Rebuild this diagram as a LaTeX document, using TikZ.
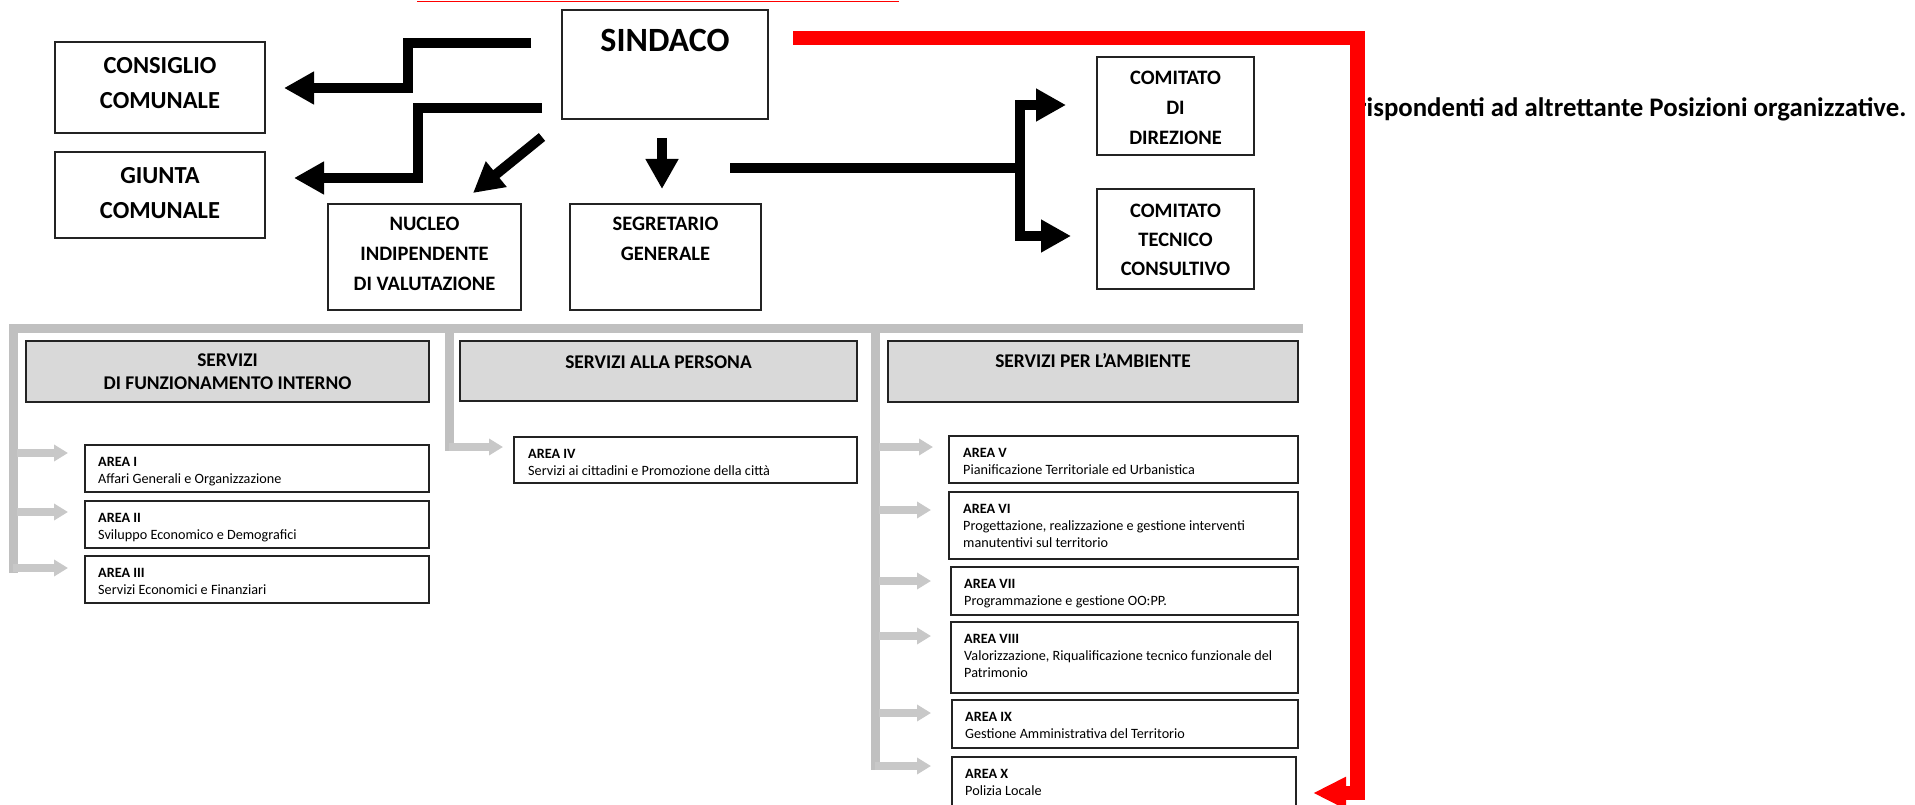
\documentclass[tikz,border=0pt]{standalone}
\usepackage{fontspec}
\setmainfont{Carlito}
\usetikzlibrary{arrows.meta,calc}
\definecolor{redline}{RGB}{255,0,0}
\definecolor{grayline}{RGB}{192,192,192}
\definecolor{grayarrow}{RGB}{200,200,200}
\definecolor{headfill}{RGB}{217,217,217}
\definecolor{boxdraw}{RGB}{35,35,35}
\begin{document}
\begin{tikzpicture}[x=1pt,y=-1pt,line join=miter,
  box/.style={draw=boxdraw,line width=1.4pt,anchor=north west,inner sep=0pt,outer sep=0pt},
  hdr/.style={box,fill=headfill},
  area/.style={draw=boxdraw,line width=1.2pt,anchor=north west,inner sep=0pt,outer sep=0pt},
  bigtxt/.style={align=center,font=\fontsize{24.5}{35}\selectfont\bfseries},
  midtxt/.style={align=center,font=\fontsize{20.5}{30}\selectfont\bfseries},
  hdrtxt/.style={align=center,font=\fontsize{19.4}{23}\selectfont\bfseries},
  areatxt/.style={align=left,anchor=north west,inner sep=0pt,font=\fontsize{14.2}{17}\selectfont},
  blk/.style={line width=10pt,-{Triangle[length=30pt,width=31pt]}},
  redarrow/.style={draw=redline,line width=14.5pt,-{Triangle[length=33pt,width=30pt]}},
  gbar/.style={draw=grayline,line width=9pt},
  garrow/.style={draw=grayarrow,line width=7.5pt,-{Triangle[length=14pt,width=16pt]}}]
\useasboundingbox (0,0) rectangle (1915,805);
\clip (0,0) rectangle (1915,805);
\fill[white] (0,0) rectangle (1915,805);

% thin red line at top
\draw[draw=redline,line width=1.5pt] (417,1.5) -- (899,1.5);

% top boxes
\node[box,minimum width=206pt,minimum height=109pt] (sindaco) at (562,10) {};
\node[font=\fontsize{34}{40}\selectfont\bfseries] (sindacot) at (665,40) {SINDACO};
\node[box,minimum width=210pt,minimum height=91pt] (consiglio) at (55,42) {};
\node[bigtxt] (consigliot) at (160,83.5) {CONSIGLIO\\COMUNALE};
\node[box,minimum width=210pt,minimum height=86pt] (giunta) at (55,152) {};
\node[bigtxt] (giuntat) at (160,193) {GIUNTA\\COMUNALE};
\node[box,minimum width=193pt,minimum height=106pt] (nucleo) at (328,204) {};
\node[midtxt] (nucleot) at (424.5,254) {NUCLEO\\INDIPENDENTE\\DI VALUTAZIONE};
\node[box,minimum width=191pt,minimum height=106pt] (segr) at (570,204) {};
\node[midtxt] (segrt) at (665.5,239) {SEGRETARIO\\GENERALE};
\node[box,minimum width=157pt,minimum height=98pt] (comdir) at (1097,57) {};
\node[midtxt] (comdirt) at (1175.5,108) {COMITATO\\DI\\DIREZIONE};
\node[box,minimum width=157pt,minimum height=100pt] (comtec) at (1097,189) {};
\node[midtxt,font=\fontsize{20.5}{29}\selectfont\bfseries] (comtect) at (1175.5,240) {COMITATO\\TECNICO\\CONSULTIVO};

% black arrows
\draw[blk] (531,43) -- (408,43) -- (408,88) -- (284,88);
\draw[blk] (542,108) -- (418,108) -- (418,178) -- (294,178);
\draw[blk] (542,137) -- (473,193);
\draw[blk] (662,138) -- (662,189);
\draw[line width=10pt] (730,168) -- (1020,168);
\draw[blk] (1020,168) |- (1066,105);
\draw[blk] (1020,168) |- (1071,236);

% gray structure
\draw[gbar] (13,573) -- (13,328) -- (1303,328);
\draw[gbar] (449,328) -- (449,451);
\draw[gbar] (875,328) -- (875,770);

% headers
\node[hdr,minimum width=403pt,minimum height=61pt] (hdrA) at (26,341) {};
\node[hdrtxt] (hdrAt) at (227.5,371.5) {SERVIZI\\DI FUNZIONAMENTO INTERNO};
\node[hdr,minimum width=397pt,minimum height=60pt] (hdrB) at (460,341) {};
\node[hdrtxt] (hdrBt) at (658.5,362) {SERVIZI ALLA PERSONA};
\node[hdr,minimum width=410pt,minimum height=61pt] (hdrC) at (888,341) {};
\node[hdrtxt] (hdrCt) at (1093,361) {SERVIZI PER L’AMBIENTE};

% area boxes
\node[area,minimum width=344pt,minimum height=47pt] (a1) at (85,445) {};
\node[areatxt] (a1t) at ($(a1.north west)+(13,12)$) {\textbf{AREA I}\\Affari Generali e Organizzazione};
\node[area,minimum width=344pt,minimum height=47pt] (a2) at (85,501) {};
\node[areatxt] (a2t) at ($(a2.north west)+(13,12)$) {\textbf{AREA II}\\Sviluppo Economico e Demografici};
\node[area,minimum width=344pt,minimum height=47pt] (a3) at (85,556) {};
\node[areatxt] (a3t) at ($(a3.north west)+(13,12)$) {\textbf{AREA III}\\Servizi Economici e Finanziari};
\node[area,minimum width=343pt,minimum height=46pt] (a4) at (514,437) {};
\node[areatxt] (a4t) at ($(a4.north west)+(14,12)$) {\textbf{AREA IV}\\Servizi ai cittadini e Promozione della città};
\node[area,minimum width=349pt,minimum height=47pt] (a5) at (949,436) {};
\node[areatxt] (a5t) at ($(a5.north west)+(14,12)$) {\textbf{AREA V}\\Pianificazione Territoriale ed Urbanistica};
\node[area,minimum width=349pt,minimum height=67pt] (a6) at (949,492) {};
\node[areatxt] (a6t) at ($(a6.north west)+(14,12)$) {\textbf{AREA VI}\\Progettazione, realizzazione e gestione interventi\\manutentivi sul territorio};
\node[area,minimum width=347pt,minimum height=48pt] (a7) at (951,567) {};
\node[areatxt] (a7t) at ($(a7.north west)+(13,12)$) {\textbf{AREA VII}\\Programmazione e gestione OO:PP.};
\node[area,minimum width=347pt,minimum height=71pt] (a8) at (951,622) {};
\node[areatxt] (a8t) at ($(a8.north west)+(13,12)$) {\textbf{AREA VIII}\\Valorizzazione, Riqualificazione tecnico funzionale del\\Patrimonio};
\node[area,minimum width=346pt,minimum height=48pt] (a9) at (952,700) {};
\node[areatxt] (a9t) at ($(a9.north west)+(13,12)$) {\textbf{AREA IX}\\Gestione Amministrativa del Territorio};
\node[area,minimum width=344pt,minimum height=80pt] (a10) at (952,757) {};
\node[areatxt] (a10t) at ($(a10.north west)+(13,12)$) {\textbf{AREA X}\\Polizia Locale};

% gray arrows
\draw[garrow] (17,453) -- (68,453);
\draw[garrow] (17,512) -- (68,512);
\draw[garrow] (13,568) -- (68,568);
\draw[garrow] (449,447) -- (503,447);
\draw[garrow] (879,447) -- (933,447);
\draw[garrow] (879,510) -- (931,510);
\draw[garrow] (879,581) -- (931,581);
\draw[garrow] (879,636) -- (931,636);
\draw[garrow] (879,713) -- (931,713);
\draw[garrow] (875,766) -- (931,766);

% right text
\node[anchor=base west,inner sep=0pt,font=\fontsize{26.8}{32}\selectfont\bfseries] (note) at (1357,117) {rispondenti ad altrettante Posizioni organizzative.};

% red arrow
\draw[redarrow] (793,38) -- (1357.5,38) -- (1357.5,793) -- (1313,793);
\end{tikzpicture}
\end{document}
